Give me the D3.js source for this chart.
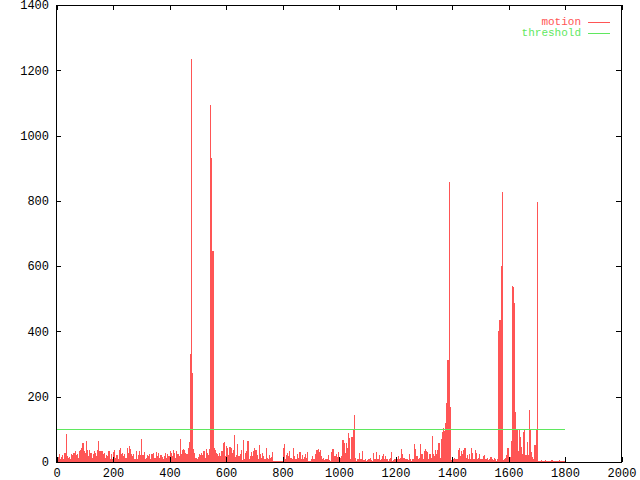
<!DOCTYPE html>
<html><head><meta charset="utf-8">
<script src="https://cdn.jsdelivr.net/npm/d3@7"></script>
<style>body{margin:0;background:#fff}svg{display:block}</style>
</head><body>
<svg id="c" width="640" height="480"></svg>
<script>
// ---- data ----
const frameStart = 0;
const frameStep = 4;
const motion = [
13,15,23,10,16,20,8,28,85,18,
12,15,10,25,20,28,33,22,23,13,
35,38,43,58,33,28,63,38,18,38,
28,13,23,33,28,18,38,65,33,35,
33,23,28,13,20,18,33,8,26,8,
30,38,13,20,10,38,43,23,28,18,
23,13,43,28,50,40,23,18,23,10,
33,10,20,33,20,70,20,30,8,13,
20,18,23,10,23,28,12,13,30,18,
28,13,20,16,10,18,28,13,23,18,
33,28,18,38,28,13,33,23,18,70,
23,38,40,38,28,23,43,60,331,1235,
274,40,28,13,10,16,23,20,28,20,
33,13,40,28,20,40,1094,931,646,43,
38,28,23,18,28,18,33,58,60,18,
50,43,20,45,43,28,37,83,15,20,
54,18,23,38,5,67,8,28,35,63,
8,18,30,18,35,43,38,20,8,51,
23,13,28,18,8,43,13,8,20,13,
16,30,3,3,3,3,3,3,3,3,
44,54,8,20,28,18,34,13,8,44,
18,10,10,23,13,30,10,20,8,16,
23,13,30,3,3,8,18,10,8,23,
38,40,30,36,18,8,13,5,10,8,
20,5,3,30,39,41,18,23,15,30,
10,13,18,67,59,28,59,43,90,75,
8,78,100,145,13,3,8,10,28,10,
34,5,5,8,3,5,8,13,5,3,
28,10,8,30,10,20,5,8,18,25,
8,18,8,3,8,13,30,3,5,10,
16,10,18,8,13,39,23,13,8,8,
10,5,23,8,3,8,54,39,18,18,
10,13,54,23,8,34,39,34,30,8,
26,13,80,23,18,38,23,38,59,13,
69,92,105,95,120,180,312,858,170,5,
3,8,13,10,8,38,44,18,33,23,
38,44,13,20,10,26,8,44,28,8,
38,28,10,13,23,8,10,18,20,8,
8,13,5,10,16,8,5,13,8,3,
8,401,435,600,827,5,8,12,21,42,
12,16,64,540,537,487,154,98,35,98,
78,45,25,93,100,21,60,20,159,98,
30,15,8,52,100,795,3,0,2,5,
0,0,6,2,0,0,3,0,5,0,
0,4,2,0,0,5,0,3,0,0,
2
];
const thresholdX = [0, 1800];
const thresholdY = [100, 100];
const xTicks = [0,200,400,600,800,1000,1200,1400,1600,1800,2000];
const yTicks = [0,200,400,600,800,1000,1200,1400];
const seriesNames = ["motion", "threshold"];
const seriesColors = ["#ff5555", "#5fe85f"];

// ---- layout ----
const L = 56, R = 621, T = 5, B = 462;
const svg = d3.select("#c");
const x = d3.scaleLinear().domain([0, 2000]).range([L + 0.5, R + 0.5]);
const y = d3.scaleLinear().domain([0, 1400]).range([B, T]);
const font = "'Liberation Mono', 'DejaVu Sans Mono', monospace";

// bars (impulses)
const pts = motion.map((v, i) => ({f: frameStart + i * frameStep, v}));
svg.append("g").attr("shape-rendering", "crispEdges")
  .selectAll("rect").data(pts).join("rect")
  .attr("x", d => Math.round(x(d.f)))
  .attr("width", d => Math.max(1, Math.round(x(d.f + frameStep)) - Math.round(x(d.f))))
  .attr("y", d => Math.min(B - 1, Math.round(y(d.v))))
  .attr("height", d => Math.max(1, B - Math.round(y(d.v))))
  .attr("fill", seriesColors[0]);

// threshold line
const thr = thresholdX.map((xv, i) => [xv, thresholdY[i]]);
svg.append("path").datum(thr)
  .attr("d", d3.line().x(d => x(d[0])).y(d => Math.round(y(d[1])) + 0.5))
  .attr("stroke", seriesColors[1]).attr("fill", "none").attr("stroke-width", 1)
  .attr("shape-rendering", "crispEdges");

// axes
function styleAxis(g, showText) {
  g.select(".domain").remove();
  g.selectAll(".tick line").attr("stroke", "#000").attr("shape-rendering", "crispEdges");
  g.selectAll("text").attr("fill", "#000").style("font-family", font).style("font-size", "12px");
  if (!showText) g.selectAll("text").remove();
}
svg.append("g").attr("transform", `translate(${L},0)`)
  .call(d3.axisLeft(y).tickValues(yTicks).tickSizeInner(-5).tickSizeOuter(0).tickPadding(7).tickFormat(d3.format("d")))
  .call(g => styleAxis(g, true));
svg.append("g").attr("transform", `translate(${R},0)`)
  .call(d3.axisRight(y).tickValues(yTicks).tickSizeInner(-5).tickSizeOuter(0))
  .call(g => styleAxis(g, false));
svg.append("g").attr("transform", `translate(0,${B})`)
  .call(d3.axisBottom(x).tickValues(xTicks).tickSizeInner(-5).tickSizeOuter(0).tickPadding(6).tickFormat(d3.format("d")))
  .call(g => styleAxis(g, true));
svg.append("g").attr("transform", `translate(0,${T})`)
  .call(d3.axisTop(x).tickValues(xTicks).tickSizeInner(-5).tickSizeOuter(0))
  .call(g => styleAxis(g, false));

// border
svg.append("rect").attr("x", L + 0.5).attr("y", T + 0.5)
  .attr("width", R - L).attr("height", B - T)
  .attr("fill", "none").attr("stroke", "#000").attr("shape-rendering", "crispEdges");

// legend
const leg = svg.append("g");
seriesNames.forEach((name, i) => {
  const ly = 21.5 + i * 11;
  leg.append("text").attr("x", 581).attr("y", ly).attr("dy", "0.35em")
    .attr("text-anchor", "end").attr("fill", seriesColors[i])
    .style("font-family", font).style("font-size", "11px").text(name);
  leg.append("line").attr("x1", 588).attr("x2", 610).attr("y1", Math.round(ly) + 0.5).attr("y2", Math.round(ly) + 0.5)
    .attr("stroke", seriesColors[i]).attr("shape-rendering", "crispEdges");
});
</script>
</body></html>
